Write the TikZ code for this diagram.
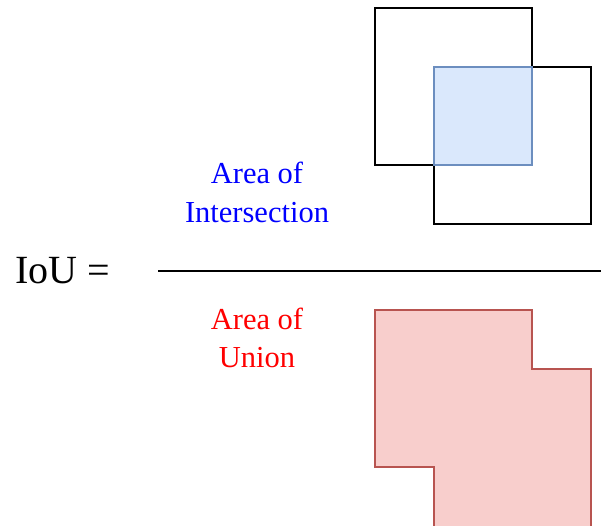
\documentclass[tikz,border=0pt]{standalone}
\usepackage{fontspec}
\setmainfont{Liberation Serif}
\definecolor{interfill}{HTML}{DAE8FC}
\definecolor{interdraw}{HTML}{6C8EBF}
\definecolor{unionfill}{HTML}{F8CECC}
\definecolor{uniondraw}{HTML}{B85450}
\tikzset{
  boxline/.style={draw=black, line width=1.3pt},
  interbox/.style={fill=interfill, draw=interdraw, line width=1.3pt},
  unionbox/.style={fill=unionfill, draw=uniondraw, line width=1.3pt},
  bluetxt/.style={text=blue, font=\fontsize{30.5}{37}\selectfont, align=center, inner sep=0pt},
  redtxt/.style={text=red, font=\fontsize{30.5}{37}\selectfont, align=center, inner sep=0pt},
  eqtxt/.style={font=\fontsize{40}{44}\selectfont, inner sep=0pt},
}
\begin{document}
\begin{tikzpicture}[x=1pt,y=-1pt]
\useasboundingbox (0,0) rectangle (601,525);
\clip (0,0) rectangle (601,525);
% boxes
\draw[boxline] (375,8) rectangle (532,165);
\draw[boxline] (434,67) rectangle (591,224);
\draw[interbox] (434,67) rectangle (532,165);
% union
\draw[unionbox] (375,310) -- (532,310) -- (532,369) -- (591,369) -- (591,535) -- (434,535) -- (434,467) -- (375,467) -- cycle;
% fraction line
\coordinate (fl) at (158,271);
\coordinate (fr) at (601,271);
\draw[line width=1.3pt] (fl) -- (fr);
% texts
\node[eqtxt, anchor=base] (iou) at (63,283) {IoU =};
\node[bluetxt, anchor=base] (a1) at (257,183) {Area of};
\node[bluetxt, anchor=base] (a2) at (257,222) {Intersection};
\node[redtxt, anchor=base] (u1) at (257,329) {Area of};
\node[redtxt, anchor=base] (u2) at (257,367) {Union};
\end{tikzpicture}
\end{document}
